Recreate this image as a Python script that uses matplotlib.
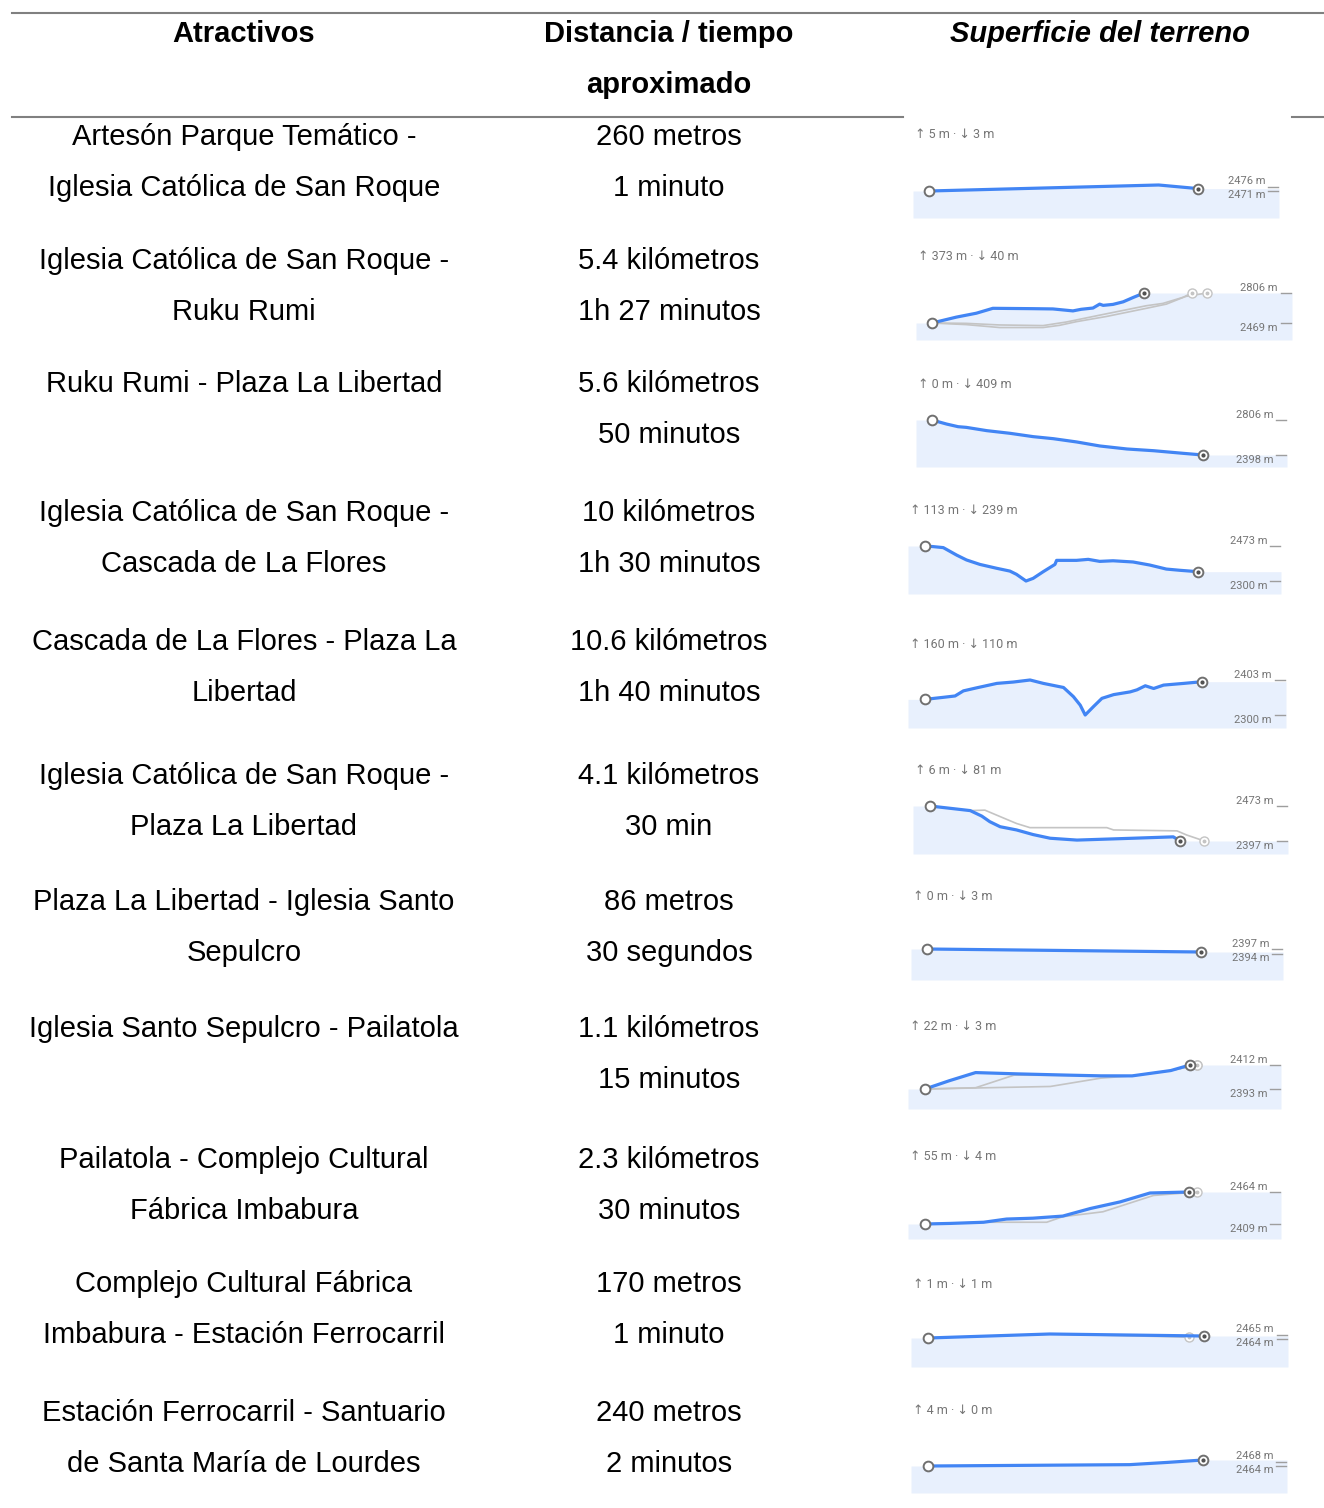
import matplotlib
matplotlib.use("Agg")
import matplotlib.pyplot as plt
from matplotlib.lines import Line2D

W, H = 1324, 1508
plt.rcParams["font.family"] = ["Liberation Sans", "DejaVu Sans"]

BLUE, FILL, GREY_TXT, ALT, RULE = "#4285F4", "#E8F0FD", "#757575", "#C4C4C4", "#808080"

# --- table text ---
headers = ["Atractivos", "Distancia / tiempo\naproximado", "Superficie del terreno"]
attractions = [
    ("Artesón Parque Temático -", "Iglesia Católica de San Roque"),
    ("Iglesia Católica de San Roque -", "Ruku Rumi"),
    ("Ruku Rumi - Plaza La Libertad", ""),
    ("Iglesia Católica de San Roque -", "Cascada de La Flores"),
    ("Cascada de La Flores - Plaza La", "Libertad"),
    ("Iglesia Católica de San Roque -", "Plaza La Libertad"),
    ("Plaza La Libertad - Iglesia Santo", "Sepulcro"),
    ("Iglesia Santo Sepulcro - Pailatola", ""),
    ("Pailatola - Complejo Cultural", "Fábrica Imbabura"),
    ("Complejo Cultural Fábrica", "Imbabura - Estación Ferrocarril"),
    ("Estación Ferrocarril - Santuario", "de Santa María de Lourdes"),
]
distances = ["260 metros", "5.4 kilómetros", "5.6 kilómetros", "10 kilómetros",
             "10.6 kilómetros", "4.1 kilómetros", "86 metros", "1.1 kilómetros",
             "2.3 kilómetros", "170 metros", "240 metros"]
times = ["1 minuto", "1h 27 minutos", "50 minutos", "1h 30 minutos", "1h 40 minutos",
         "30 min", "30 segundos", "15 minutos", "30 minutos", "1 minuto", "2 minutos"]

# --- elevation profile summaries ---
ascents = [5, 373, 0, 113, 160, 6, 0, 22, 55, 1, 4]
descents = [3, 40, 409, 239, 110, 81, 3, 3, 4, 1, 0]
elev_max = [2476, 2806, 2806, 2473, 2403, 2473, 2397, 2412, 2464, 2465, 2468]
elev_min = [2471, 2469, 2398, 2300, 2300, 2397, 2394, 2393, 2409, 2464, 2464]

# --- elevation profiles: distance (km), elevation (m) ---
route_km = [
    [0, 0.222, 0.26],
    [0, 0.62, 1.13, 1.55, 2.57, 3.08, 3.59, 3.80, 4.10, 4.27, 4.36, 4.61, 4.87, 5.12, 5.40],
    [0, 0.30, 0.54, 0.71, 1.13, 1.61, 2.09, 2.51, 2.99, 3.47, 4.03, 4.58, 5.20, 5.60],
    [0, 0.30, 0.67, 1.16, 1.52, 2.01, 2.62, 3.11, 3.35, 3.70, 3.96, 4.33, 4.76, 4.82,
     5.55, 5.98, 6.40, 6.89, 7.62, 8.23, 8.84, 9.33, 10.0],
    [0, 0.70, 1.15, 1.47, 1.98, 2.75, 3.38, 4.02, 4.53, 5.30, 5.68, 5.94, 6.13, 6.45,
     6.77, 7.22, 7.85, 8.11, 8.43, 8.75, 9.13, 9.90, 10.6],
    [0, 0.33, 0.66, 0.85, 0.98, 1.15, 1.42, 1.69, 1.97, 2.41, 3.33, 3.99, 4.10],
    [0, 0.043, 0.086],
    [0, 0.10, 0.21, 0.38, 0.59, 0.73, 0.86, 1.02, 1.10],
    [0, 0.22, 0.51, 0.71, 0.94, 1.20, 1.44, 1.70, 1.96, 2.30],
    [0, 0.075, 0.17],
    [0, 0.176, 0.209, 0.24],
]
route_m = [
    [2471, 2476, 2473],
    [2469, 2535, 2579, 2634, 2630, 2627, 2605, 2623, 2637, 2681, 2667, 2678, 2707, 2755, 2806],
    [2806, 2759, 2728, 2720, 2682, 2651, 2612, 2588, 2550, 2503, 2468, 2448, 2417, 2398],
    [2473, 2470, 2465, 2428, 2404, 2382, 2363, 2349, 2333, 2300, 2313, 2346, 2382, 2402,
     2402, 2407, 2397, 2400, 2394, 2379, 2359, 2353, 2346],
    [2346, 2352, 2356, 2371, 2380, 2393, 2397, 2403, 2393, 2381, 2354, 2329, 2300, 2325,
     2349, 2360, 2368, 2374, 2386, 2378, 2388, 2393, 2398],
    [2473, 2468, 2463, 2451, 2439, 2428, 2421, 2411, 2403, 2399, 2403, 2406, 2397],
    [2397, 2395.5, 2394],
    [2393, 2399.5, 2406, 2405, 2404, 2403.4, 2403.4, 2407.6, 2412],
    [2409, 2410, 2412, 2417.5, 2419, 2422.6, 2435.6, 2447, 2462.3, 2464],
    [2464, 2465, 2464.5],
    [2464, 2464.9, 2466.4, 2468],
]
# alternative (grey) routes, per profile
alt_km = {
    1: [[0, 0.87, 1.72, 2.83, 3.25, 3.68, 4.44, 5.46, 5.97, 6.39, 6.61],
        [0, 0.87, 1.72, 2.83, 3.42, 4.27, 5.46, 5.88, 6.48, 7.00]],
    5: [[0, 0.66, 0.90, 1.15, 1.42, 1.64, 2.24, 2.90, 3.01, 4.05, 4.21, 4.50]],
    7: [[0, 0.21, 0.37, 0.86, 1.02, 1.13],
        [0, 0.52, 0.73, 0.86, 1.02, 1.13]],
    8: [[0, 0.51, 1.06, 1.20, 1.55, 1.99, 2.37]],
    9: [[0, 0.075, 0.14, 0.161]],
}
alt_m = {
    1: [[2469, 2451, 2418, 2418, 2443, 2484, 2542, 2634, 2681, 2755, 2806],
        [2469, 2465, 2447, 2440, 2480, 2557, 2663, 2689, 2769, 2806]],
    5: [[2473, 2463, 2464, 2450, 2435, 2426, 2426, 2426, 2421, 2419, 2410, 2397]],
    7: [[2393, 2394, 2404, 2403.4, 2407.6, 2412],
        [2393, 2395, 2401.6, 2403.4, 2407.6, 2412]],
    8: [[2409, 2412, 2412, 2421.5, 2430, 2458, 2464]],
    9: [[2464, 2465, 2464.4, 2464.2]],
}

# layout (pixels): fill left, fill right, fill bottom, start x, end x, y of max, y of min
profile_box = [
    (913, 1279, 218, 929, 1198, 185, 191),
    (916, 1292, 340, 932, 1144, 293, 323),
    (916, 1287, 467, 932, 1203, 420, 455),
    (908, 1281, 594, 925, 1198, 546, 581),
    (908, 1286, 728, 925, 1202, 680, 715),
    (913, 1288, 854, 930, 1180, 806, 841),
    (911, 1283, 980, 927, 1201, 949, 952),
    (908, 1281, 1109, 925, 1190, 1065, 1089),
    (908, 1281, 1239, 925, 1189, 1192, 1224),
    (911, 1288, 1367, 928, 1204, 1334, 1338),
    (911, 1287, 1493, 928, 1203, 1460, 1466),
]
row_y = [137, 261, 384, 513, 642, 776, 902, 1029, 1160, 1284, 1413]
LINE_GAP = 51
COL_X = [244, 669, 1100]
FS = 21


def fx(x):
    return x / W


def fy(y):
    return 1 - y / H


def hline(fig, x0, x1, y, **kw):
    fig.add_artist(Line2D([fx(x0), fx(x1)], [fy(y), fy(y)], **kw))


fig = plt.figure(figsize=(W / 100, H / 100), dpi=100)

# table rules
hline(fig, 12, 1324, 13, color=RULE, lw=1.5)
hline(fig, 12, 903, 117, color=RULE, lw=1.5)
hline(fig, 1292, 1324, 117, color=RULE, lw=1.5)

# header
fig.text(fx(COL_X[0]), fy(34), headers[0], ha="center", va="center", fontsize=FS, fontweight="bold")
for k, t in enumerate(headers[1].split("\n")):
    fig.text(fx(COL_X[1]), fy(34 + k * LINE_GAP), t, ha="center", va="center",
             fontsize=FS, fontweight="bold")
fig.text(fx(COL_X[2]), fy(34), headers[2], ha="center", va="center", fontsize=FS,
         fontweight="bold", fontstyle="italic")

# rows of text
for i, y in enumerate(row_y):
    for k, t in enumerate(attractions[i]):
        if t:
            fig.text(fx(COL_X[0]), fy(y + k * LINE_GAP), t, ha="center", va="center", fontsize=FS)
    fig.text(fx(COL_X[1]), fy(y), distances[i], ha="center", va="center", fontsize=FS)
    fig.text(fx(COL_X[1]), fy(y + LINE_GAP), times[i], ha="center", va="center", fontsize=FS)

# elevation profiles
for i, (x0, x1, yb, xs, xe, ytop, ybot) in enumerate(profile_box):
    km, m = route_km[i], route_m[i]
    D = km[-1]
    kx = D / (xe - xs)
    xlim = (-(xs - x0) * kx, D + (x1 - xe) * kx)
    emax, emin = elev_max[i], elev_min[i]
    ky = (emax - emin) / (ybot - ytop)
    ylim = (emin - (yb - ybot) * ky, emax)

    ax = fig.add_axes([fx(x0), fy(yb), (x1 - x0) / W, (yb - ytop) / H])
    ax.set_xlim(xlim)
    ax.set_ylim(ylim)
    ax.axis("off")

    ax.fill_between([xlim[0]] + km + [xlim[1]], [m[0]] + m + [m[-1]], ylim[0],
                    color=FILL, lw=0, zorder=1)
    for akm, am in zip(alt_km.get(i, []), alt_m.get(i, [])):
        ax.plot(akm, am, color=ALT, lw=1.2, zorder=2, clip_on=False)
        ax.plot(akm[-1], am[-1], "o", ms=6.5, mfc="white", mec=ALT, mew=1.0, zorder=3, clip_on=False)
        ax.plot(akm[-1], am[-1], "o", ms=1.8, color=ALT, zorder=3, clip_on=False)
    ax.plot(km, m, color=BLUE, lw=2.3, zorder=4, clip_on=False, solid_capstyle="round",
            solid_joinstyle="round")
    ax.plot(km[0], m[0], "o", ms=7, mfc="white", mec="#707070", mew=1.4, zorder=5, clip_on=False)
    ax.plot(km[-1], m[-1], "o", ms=7, mfc="white", mec="#707070", mew=1.4, zorder=5, clip_on=False)
    ax.plot(km[-1], m[-1], "o", ms=2, color="#505050", zorder=6, clip_on=False)

    # summary text
    fig.text(fx(x0 + 2), fy(yb - 83), f"\u2191 {ascents[i]} m \u00b7 \u2193 {descents[i]} m",
             ha="left", va="center", fontsize=9, color=GREY_TXT,
             family=["Roboto", "DejaVu Sans"])

    # max / min labels
    if ybot - ytop < 20:
        yc = (ytop + ybot) / 2
        lab_y = (yc - 7, yc + 7)
        dash_y = (yc - 1.5, yc + 3)
    else:
        lab_y = (ytop - 5, ybot + 5)
        dash_y = (ytop, ybot)
    for val, ly, dy in zip((emax, emin), lab_y, dash_y):
        fig.text(fx(x1 - 14), fy(ly), f"{val} m", ha="right", va="center", fontsize=8,
                 color=GREY_TXT, family=["Roboto", "DejaVu Sans"])
        hline(fig, x1 - 11, x1 - 1, dy, color="#9E9E9E", lw=1)

fig.savefig("out.png", dpi=100)
